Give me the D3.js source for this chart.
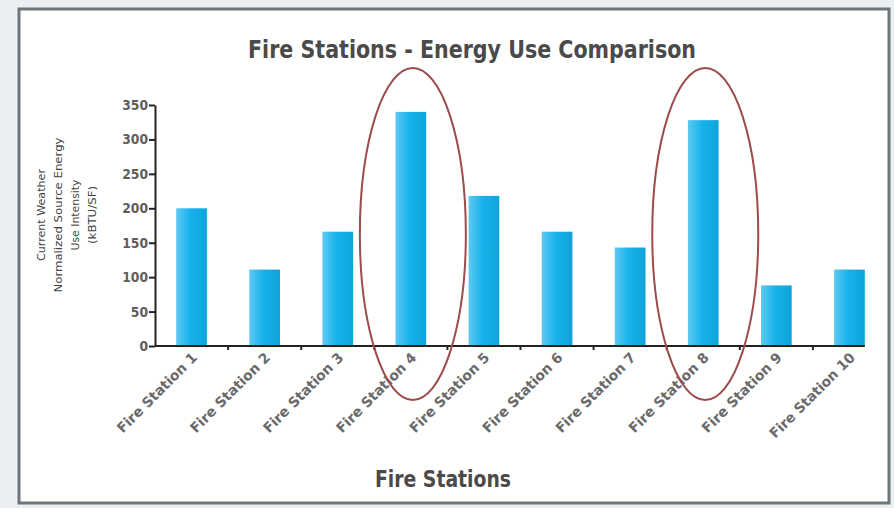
<!DOCTYPE html>
<html>
<head>
<meta charset="utf-8">
<script src="https://cdn.jsdelivr.net/npm/d3@7"></script>
<style>
  body { margin: 0; background: #eaf0f2; }
  svg { display: block; }
  text { font-family: "Liberation Sans Narrow", "DejaVu Sans Condensed", "Liberation Sans", sans-serif; }
</style>
</head>
<body>
<div id="chart"></div>
<script>
// chart data
var stations = ["Fire Station 1", "Fire Station 2", "Fire Station 3", "Fire Station 4", "Fire Station 5",
                "Fire Station 6", "Fire Station 7", "Fire Station 8", "Fire Station 9", "Fire Station 10"];
var energyUse = [200, 111, 166, 340, 218, 166, 143, 328, 88, 111];
var yTicks = [0, 50, 100, 150, 200, 250, 300, 350];
var circled = ["Fire Station 4", "Fire Station 8"];
var yLabelLines = ["Current Weather", "Normalized Source Energy", "Use Intensity", "(kBTU/SF)"];

var W = 894, H = 508;
var svg = d3.select('#chart').append('svg').attr('width', W).attr('height', H);

// Frame
svg.append('rect').attr('x', 0).attr('y', 0).attr('width', W).attr('height', H).attr('fill', '#eaf0f2');
svg.append('rect')
	.attr('x', 19).attr('y', 9).attr('width', 870).attr('height', 494)
	.attr('fill', '#fff').attr('stroke', '#6d7579').attr('stroke-width', 3);

// Bar gradient
var defs = svg.append('defs');
var grad = defs.append('linearGradient').attr('id', 'barGrad').attr('x1', 0).attr('x2', 1).attr('y1', 0).attr('y2', 0);
grad.append('stop').attr('offset', '0%').attr('stop-color', '#5ec9f1');
grad.append('stop').attr('offset', '45%').attr('stop-color', '#17b3ec');
grad.append('stop').attr('offset', '100%').attr('stop-color', '#0fa3da');

// Scales
var x = d3.scaleBand().domain(stations).range([155, 886]).padding(0);
var y = d3.scaleLinear().domain([0, 350]).range([346, 105]);
var barW = x.bandwidth() * 0.42;

// Bars
svg.append('g').selectAll('rect')
	.data(stations)
	.enter().append('rect')
		.attr('x', function(d) { return x(d) + (x.bandwidth() - barW) / 2; })
		.attr('y', function(d, i) { return y(energyUse[i]); })
		.attr('width', barW)
		.attr('height', function(d, i) { return y(0) - y(energyUse[i]); })
		.attr('fill', 'url(#barGrad)');

// Y axis
var yAxis = svg.append('g')
	.attr('transform', 'translate(155,0)')
	.call(d3.axisLeft(y).tickValues(yTicks).tickSize(6).tickSizeOuter(0));
yAxis.select('.domain').attr('stroke', '#222').attr('stroke-width', 2);
yAxis.selectAll('.tick line').attr('stroke', '#222').attr('stroke-width', 2);
yAxis.selectAll('.tick text')
	.attr('fill', '#5e5e5e').attr('font-size', 14).attr('font-weight', 'bold').attr('x', -7)
	.attr('textLength', function(d) { return String(d).length * 8.6; })
	.attr('lengthAdjust', 'spacingAndGlyphs');

// X axis (line runs to the right edge of the last bar)
var xEnd = x(stations[stations.length - 1]) + (x.bandwidth() + barW) / 2;
svg.append('line')
	.attr('x1', 155).attr('x2', xEnd).attr('y1', y(0)).attr('y2', y(0))
	.attr('stroke', '#222').attr('stroke-width', 2);
svg.append('g').selectAll('line')
	.data(stations.slice(1))
	.enter().append('line')
		.attr('x1', function(d) { return x(d); }).attr('x2', function(d) { return x(d); })
		.attr('y1', y(0)).attr('y2', y(0) + 4)
		.attr('stroke', '#222').attr('stroke-width', 2);

// X tick labels, rotated
svg.append('g').selectAll('text')
	.data(stations)
	.enter().append('text')
		.attr('transform', function(d) {
			return 'translate(' + (x(d) + x.bandwidth() / 2 + 3) + ',' + (y(0) + 9) + ') rotate(-45)';
		})
		.attr('text-anchor', 'end')
		.attr('dy', '0.35em')
		.attr('font-size', 14)
		.attr('font-weight', 'bold')
		.attr('fill', '#6a6a6a')
		.attr('textLength', function(d) { return d.length * 7.6; })
		.attr('lengthAdjust', 'spacingAndGlyphs')
		.text(function(d) { return d; });

// Ellipses round the two highest stations
svg.append('g').selectAll('ellipse')
	.data(circled)
	.enter().append('ellipse')
		.attr('cx', function(d) { return x(d) + x.bandwidth() / 2 + 2; })
		.attr('cy', 234)
		.attr('rx', 53)
		.attr('ry', 166)
		.attr('fill', 'none')
		.attr('stroke', '#9c4c4c')
		.attr('stroke-width', 2);

// Title
svg.append('text')
	.attr('x', 472).attr('y', 58)
	.attr('text-anchor', 'middle')
	.attr('font-size', 24).attr('font-weight', 'bold').attr('fill', '#4a4a4a')
	.attr('textLength', 448).attr('lengthAdjust', 'spacingAndGlyphs')
	.text('Fire Stations - Energy Use Comparison');

// X axis title
svg.append('text')
	.attr('x', 443).attr('y', 487)
	.attr('text-anchor', 'middle')
	.attr('font-size', 23).attr('font-weight', 'bold').attr('fill', '#4a4a4a')
	.attr('textLength', 136).attr('lengthAdjust', 'spacingAndGlyphs')
	.text('Fire Stations');

// Y axis title (four small rotated lines)
var yLabelLengths = [92, 155, 71, 58];
svg.append('g').selectAll('text')
	.data(yLabelLines)
	.enter().append('text')
		.attr('transform', function(d, i) { return 'translate(' + (45 + i * 17) + ',215) rotate(-90)'; })
		.attr('text-anchor', 'middle')
		.attr('font-size', 11).attr('fill', '#444')
		.attr('textLength', function(d, i) { return yLabelLengths[i]; })
		.attr('lengthAdjust', 'spacingAndGlyphs')
		.text(function(d) { return d; });
</script>
</body>
</html>
